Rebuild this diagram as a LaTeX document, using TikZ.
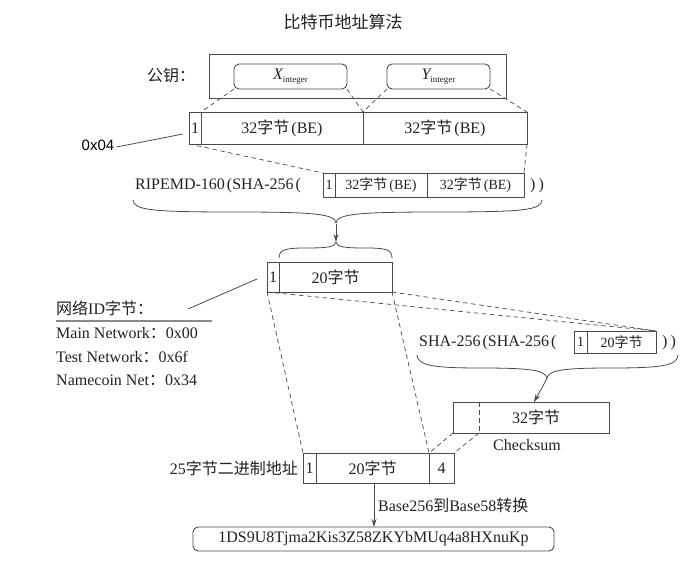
\documentclass[tikz,border=0pt]{standalone}
\usepackage{fontspec}
\setmainfont{Liberation Serif}
\newfontfamily\cjk{Noto Sans CJK SC}
\newfontfamily\arialf{Liberation Sans}
\usetikzlibrary{arrows.meta,calc}
\definecolor{ink}{HTML}{222222}
\definecolor{ln}{HTML}{4A4A4A}
\definecolor{ulgray}{HTML}{8A8A8A}
\newcommand\bebytes{32{\cjk 字节}\hspace{2pt}(BE)}
\begin{document}
\begin{tikzpicture}[x=1pt,y=-1pt,
  txt/.style={font=\fontsize{16}{19}\selectfont, text=ink, inner sep=0pt},
  cell/.style={draw=ln, line width=0.9pt, inner sep=0pt, outer sep=0pt, font=\fontsize{16}{19}\selectfont, text=ink},
  scell/.style={cell, font=\fontsize{14}{16}\selectfont},
  rbox/.style={cell, rounded corners=5pt},
  dline/.style={draw=ln, dash pattern=on 4.5pt off 3.5pt, line width=0.7pt},
  conn/.style={draw=ln, line width=0.8pt},
  arr/.style={conn, -{Stealth[length=8pt,width=5pt]}},
]
\useasboundingbox (0,0) rectangle (696,564);
\fill[white] (0,0) rectangle (696,564);

% title
\node[txt, font=\fontsize{17}{20}\selectfont] (title) at (343,22) {{\cjk 比特币地址算法}};

% public key
\node[txt] (pk) at (171,75) {{\cjk 公钥：}};
\node[cell, minimum width=297, minimum height=44] (pkbox) at (357.5,76) {};
\node[rbox, minimum width=113, minimum height=25] (xb) at (290.5,76.5) {{\itshape X}\raisebox{-3pt}{\fontsize{9}{9}\selectfont integer}};
\node[rbox, minimum width=103, minimum height=25] (yb) at (438.5,76.5) {{\itshape Y}\raisebox{-3pt}{\fontsize{9}{9}\selectfont integer}};

% row 1
\node[cell, minimum width=12, minimum height=32] (r1a) at (195,128) {1};
\node[cell, minimum width=162, minimum height=32] (r1b) at (282,128) {\bebytes};
\node[cell, minimum width=164, minimum height=32] (r1c) at (445,128) {\bebytes};

\draw[dline] (xb.south west) -- (r1a.north east);
\draw[dline] (xb.south east) -- (r1b.north east);
\draw[dline] (yb.south west) -- (r1b.north east);
\draw[dline] (yb.south east) -- (r1c.north east);

% 0x04
\node[font=\arialf\fontsize{15}{17}\selectfont, text=black, inner sep=0pt] (ox) at (98,145) {0x04};
\coordinate (oxend) at (183,134);
\draw[conn] (ox.east) ++(2,2) coordinate (oxs) -- (oxend);

% small row 1
\node[txt, anchor=west] (rip) at (135,186) {RIPEMD-160\hspace{2pt}(SHA-256\hspace{2pt}(};
\node[scell, minimum width=12, minimum height=24] (s1a) at (329,185) {1};
\node[scell, minimum width=92, minimum height=24] (s1b) at (381,185) {\bebytes};
\node[scell, minimum width=97, minimum height=24] (s1c) at (475.5,185) {\bebytes};
\node[txt, anchor=west] (rp1) at (530,186) {)\hspace{3pt})};

\draw[dline] (r1a.south west) -- (s1a.north west);
\draw[dline] (r1c.south east) -- (s1c.north east);

% brace 1
\draw[conn] (133,200) .. controls (134,210) and (150,212) .. (235,212)
  .. controls (315,212) and (335,214) .. (336,223)
  .. controls (337,214) and (357,212) .. (440,212)
  .. controls (525,212) and (541,210) .. (542,200);
\coordinate (b1tip) at (336,224);
% brace 2
\draw[conn] (279,258) .. controls (279,250) and (285,248) .. (305,248)
  .. controls (328,248) and (335,247) .. (336,242)
  .. controls (337,247) and (344,248) .. (366,248)
  .. controls (387,248) and (392,250) .. (392,258);
\coordinate (b2tip) at (336,242);
\draw[arr] (b1tip) -- (b2tip);

% row 20
\node[cell, minimum width=12, minimum height=30] (r2a) at (273,277) {1};
\node[cell, minimum width=113, minimum height=30] (r2b) at (335.5,277) {20{\cjk 字节}};

% network id
\node[txt, anchor=west] (nid) at (56,308) {{\cjk 网络}ID{\cjk 字节：}};
\coordinate (ul1) at (56,321);
\coordinate (ul2) at (212,321);
\draw[draw=ulgray, line width=1.2pt] (ul1) -- (ul2);
\node[txt, anchor=west] (mn) at (56,333) {Main Network{\cjk ：}0x00};
\node[txt, anchor=west] (tn) at (56,357) {Test Network{\cjk ：}0x6f};
\node[txt, anchor=west] (nn) at (56,380) {Namecoin Net{\cjk ：}0x34};
\coordinate (nids) at (188,309);
\coordinate (nide) at (257,279);
\draw[conn] (nids) -- (nide);

% SHA small row
\node[txt, anchor=west] (sha) at (419,343) {SHA-256\hspace{2pt}(SHA-256\hspace{2pt}(};
\node[scell, minimum width=13, minimum height=22] (s2a) at (580.5,342) {1};
\node[scell, minimum width=69, minimum height=22] (s2b) at (621.5,342) {20{\cjk 字节}};
\node[txt, anchor=west] (rp2) at (662,343) {)\hspace{3pt})};

\draw[dline] (r2a.south west) -- (s2b.north east);
\draw[dline] (r2b.south east) -- (s2b.north east);

% brace 3
\draw[conn] (417,355) .. controls (418,365) and (430,368) .. (480,368)
  .. controls (530,368) and (545,370) .. (547,378)
  .. controls (549,370) and (564,368) .. (612,368)
  .. controls (665,368) and (677,365) .. (678,355);
\coordinate (b3tip) at (547,378);

% checksum box
\node[cell, minimum width=156, minimum height=31] (ck) at (531,417.5) {};
\node[txt] (cktxt) at (536,417.5) {32{\cjk 字节}};
\coordinate (ckdt) at (479,402);
\coordinate (ckdb) at (479,433);
\draw[dline] (ckdt) -- (ckdb);
\node[txt] (cks) at (527,445) {Checksum};
\draw[arr] (b3tip) .. controls (543,386) .. (ck.north -| 534,0);

% row 25
\node[txt, anchor=east] (l25) at (298,468) {25{\cjk 字节二进制地址}};
\node[cell, minimum width=13, minimum height=30] (r3a) at (309.5,468) {1};
\node[cell, minimum width=113, minimum height=30] (r3b) at (372.5,468) {20{\cjk 字节}};
\node[cell, minimum width=25, minimum height=30] (r3c) at (441.5,468) {4};

\draw[dline] (r2a.south west) -- (r3a.north west);
\draw[dline] (r2b.south east) -- (r3b.north east);
\draw[dline] (ck.south west) -- (r3b.north east);
\draw[dline] (ckdb) -- (r3c.north east);

% final
\node[rbox, minimum width=361, minimum height=24] (fin) at (373.5,539) {1DS9U8Tjma2Kis3Z58ZKYbMUq4a8HXnuKp};
\draw[arr] (r3b.south -| 374,0) -- (fin.north -| 374,0);
\node[txt, anchor=west] (b58) at (378,505) {Base256{\cjk 到}Base58{\cjk 转换}};
\end{tikzpicture}
\end{document}
